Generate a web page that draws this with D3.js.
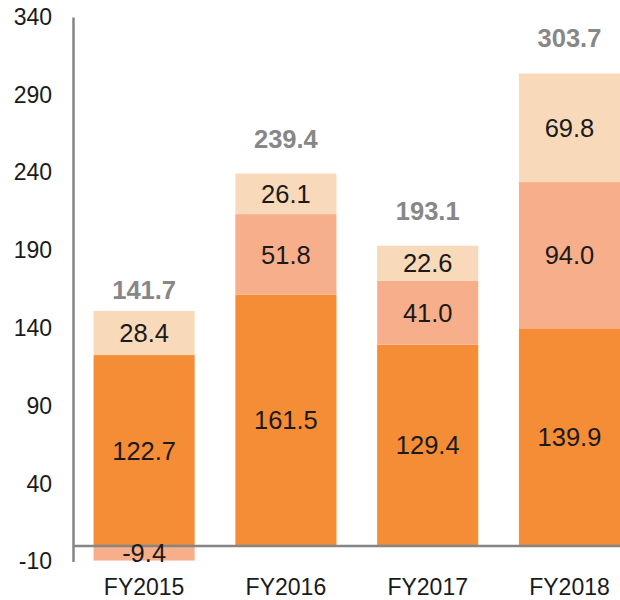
<!DOCTYPE html>
<html>
<head>
<meta charset="utf-8">
<script src="https://cdn.jsdelivr.net/npm/d3@7/dist/d3.min.js"></script>
<style>
  html, body { margin: 0; padding: 0; background: #fff; }
  svg { display: block; font-family: "Liberation Sans", Arial, sans-serif; }
</style>
</head>
<body>
<svg id="chart" width="620" height="600"></svg>
<script>
const categories = ["FY2015", "FY2016", "FY2017", "FY2018"];
const baseValues = [122.7, 161.5, 129.4, 139.9];
const midValues = [-9.4, 51.8, 41.0, 94.0];
const topValues = [28.4, 26.1, 22.6, 69.8];
const totals = [141.7, 239.4, 193.1, 303.7];
const yTicks = [-10, 40, 90, 140, 190, 240, 290, 340];

const seriesKeys = ["base", "mid", "top"];
const colors = { base: "#F58D37", mid: "#F7AF8B", top: "#F8D9BA" };

const rows = categories.map((c, i) => ({
  cat: c, base: baseValues[i], mid: midValues[i], top: topValues[i], total: totals[i]
}));

const svg = d3.select("#chart");

const x = d3.scaleBand()
  .domain(categories)
  .range([73, 640.6])
  .paddingInner(0.287)
  .paddingOuter(0.145);

const y = d3.scaleLinear()
  .domain([-10, 340])
  .range([561.5, 17]);

const stack = d3.stack().keys(seriesKeys).offset(d3.stackOffsetDiverging);
const stacked = stack(rows);

const layers = svg.append("g").selectAll("g")
  .data(stacked)
  .join("g")
  .attr("fill", d => colors[d.key]);

layers.selectAll("rect")
  .data(d => d.map(p => ({ p, key: d.key })))
  .join("rect")
  .attr("x", d => x(d.p.data.cat))
  .attr("width", x.bandwidth())
  .attr("y", d => y(Math.max(d.p[0], d.p[1])))
  .attr("height", d => Math.abs(y(d.p[0]) - y(d.p[1])));

// y axis
const yAxis = d3.axisLeft(y).tickValues(yTicks).tickSize(0).tickPadding(21)
  .tickFormat(d => String(d));
const gy = svg.append("g").attr("transform", "translate(73,0)").call(yAxis);
gy.select(".domain").attr("stroke", "#858585").attr("stroke-width", 2.5);
gy.selectAll("text").attr("font-size", 23).attr("fill", "#1a1a1a")
  .attr("font-family", "Liberation Sans, Arial, sans-serif");

// x axis at zero
const xAxis = d3.axisBottom(x).tickSize(0).tickPadding(0);
const gx = svg.append("g").attr("transform", `translate(0,${y(0)})`).call(xAxis);
gx.select(".domain").remove();
gx.append("line")
  .attr("x1", 73).attr("x2", 620)
  .attr("y1", 0).attr("y2", 0)
  .attr("stroke", "#858585").attr("stroke-width", 2.5);
gx.selectAll(".tick text")
  .attr("y", 595 - y(0))
  .attr("dy", 0)
  .attr("font-size", 23)
  .attr("fill", "#1a1a1a")
  .attr("font-family", "Liberation Sans, Arial, sans-serif");

// segment labels
const labels = svg.append("g");
stacked.forEach(layer => {
  layer.forEach(p => {
    const v = p.data[layer.key];
    labels.append("text")
      .attr("x", x(p.data.cat) + x.bandwidth() / 2)
      .attr("y", (y(p[0]) + y(p[1])) / 2)
      .attr("dy", "0.36em")
      .attr("text-anchor", "middle")
      .attr("font-size", 25.5)
      .attr("fill", "#1a1a1a")
      .text(v.toFixed(1));
  });
});

// totals
svg.append("g").selectAll("text")
  .data(rows)
  .join("text")
  .attr("x", d => x(d.cat) + x.bandwidth() / 2)
  .attr("y", d => y(d.total) - 26)
  .attr("text-anchor", "middle")
  .attr("font-size", 25.5)
  .attr("font-weight", "bold")
  .attr("fill", "#878787")
  .text(d => d.total.toFixed(1));
</script>
</body>
</html>
